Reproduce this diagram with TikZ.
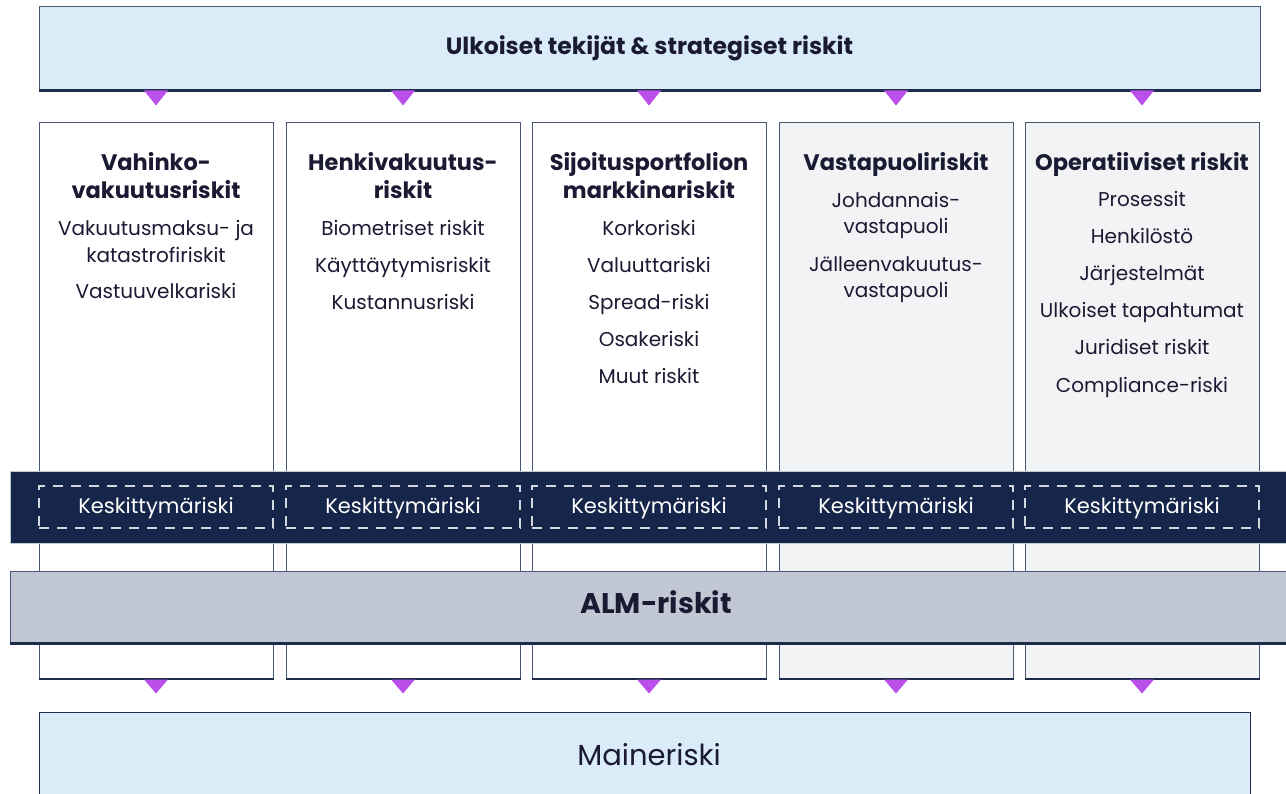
\documentclass[tikz,border=0pt]{standalone}
\usetikzlibrary{calc}
\usepackage{fontspec}
\setmainfont{Poppins}
\definecolor{lightblue}{HTML}{DAECF7}
\definecolor{edge}{HTML}{4A5878}
\definecolor{darkedge}{HTML}{1E2C4C}
\definecolor{navy}{HTML}{16264A}
\definecolor{almgray}{HTML}{C1C7D3}
\definecolor{paleg}{HTML}{F2F3F5}
\definecolor{tri}{HTML}{BB4FEA}
\definecolor{ink}{HTML}{1B1A33}
\definecolor{dashc}{HTML}{D3D7DF}
\tikzset{
  bar/.style={draw=edge, line width=1pt, inner sep=0pt},
  col/.style={draw=edge, line width=1pt, fill=white, minimum width=234pt, minimum height=555pt, inner sep=0pt},
  colg/.style={col, fill=paleg},
  hd/.style={font=\fontsize{22.5}{27}\selectfont\bfseries, text=ink, inner sep=0pt, anchor=base},
  it/.style={font=\fontsize{20}{27}\selectfont, text=ink, inner sep=0pt, anchor=base},
  kesk/.style={draw=dashc, line width=1.1pt, dash pattern=on 10pt off 8pt, minimum width=234pt, minimum height=42pt, inner sep=0pt},
  kesktxt/.style={text=white, font=\fontsize{21}{24}\selectfont, inner sep=0pt, anchor=base},
  marker/.style={fill=tri, draw=none}
}
\begin{document}
\begin{tikzpicture}[x=1pt,y=-1pt]
\useasboundingbox (0,0) rectangle (1286,794);
\clip (0,0) rectangle (1286,794);
% columns
\foreach \n/\x/\s in {c1/156/col,c2/403/col,c3/649/col,c4/896/colg,c5/1142/colg}{
  \node[\s] (\n) at (\x,400.5) {};
  \draw[darkedge, line width=2pt] (\n.south west) -- (\n.south east);
}
% top bar
\node[bar, fill=lightblue, minimum width=1221pt, minimum height=83pt] (top) at (649.5,48.5) {};
\draw[darkedge, line width=2.5pt] (top.south west) -- (top.south east);
\node[hd, font=\fontsize{23.5}{27}\selectfont\bfseries] (toptxt) at (649.5,54.5) {Ulkoiset tekijät \& strategiset riskit};
% markers top
\foreach \n in {c1,c2,c3,c4,c5}{
  \fill[marker] ($(top.south -| \n.center)+(-12,0)$) -- ($(top.south -| \n.center)+(12,0)$) -- ($(top.south -| \n.center)+(0,15)$) -- cycle;
}
% column headers
\node[hd] (h1a) at (156,171) {Vahinko-};
\node[hd] (h1b) at (156,199) {vakuutusriskit};
\node[hd] (h2a) at (403,171) {Henkivakuutus-};
\node[hd] (h2b) at (403,199) {riskit};
\node[hd] (h3a) at (649,171) {Sijoitusportfolion};
\node[hd] (h3b) at (649,199) {markkinariskit};
\node[hd] (h4) at (896,171) {Vastapuoliriskit};
\node[hd] (h5) at (1142,171) {Operatiiviset riskit};
% items
\node[it] (i11a) at (156,236) {Vakuutusmaksu- ja};
\node[it] (i11b) at (156,263) {katastrofiriskit};
\node[it] (i12) at (156,299) {Vastuuvelkariski};
\node[it] (i21) at (403,236) {Biometriset riskit};
\node[it] (i22) at (403,273) {Käyttäytymisriskit};
\node[it] (i23) at (403,310) {Kustannusriski};
\node[it] (i31) at (649,236) {Korkoriski};
\node[it] (i32) at (649,273) {Valuuttariski};
\node[it] (i33) at (649,310) {Spread-riski};
\node[it] (i34) at (649,347) {Osakeriski};
\node[it] (i35) at (649,384) {Muut riskit};
\node[it] (i41a) at (896,208) {Johdannais-};
\node[it] (i41b) at (896,234) {vastapuoli};
\node[it] (i42a) at (896,272) {Jälleenvakuutus-};
\node[it] (i42b) at (896,298) {vastapuoli};
\node[it] (i51) at (1142,207) {Prosessit};
\node[it] (i52) at (1142,244) {Henkilöstö};
\node[it] (i53) at (1142,281) {Järjestelmät};
\node[it] (i54) at (1142,318) {Ulkoiset tapahtumat};
\node[it] (i55) at (1142,355) {Juridiset riskit};
\node[it] (i56) at (1142,392) {Compliance-riski};
% concentration band
\node[bar, draw=almgray, line width=0.8pt, fill=navy, minimum width=1276pt, minimum height=72pt] (band) at (648,507) {};
\foreach \n in {c1,c2,c3,c4,c5}{
  \node[kesk] (k\n) at (\n.center |- band.center) {};
  \node[kesktxt] (kt\n) at ($(k\n.center)+(0,6.5)$) {Keskittymäriski};
}
% ALM band
\node[bar, fill=almgray, minimum width=1276pt, minimum height=72pt] (alm) at (648,607) {};
\draw[darkedge, line width=2.5pt] (alm.south west) -- (alm.south east);
\node[hd, font=\fontsize{28.5}{30}\selectfont\bfseries] (almtxt) at (656,613) {ALM-riskit};
% bottom markers
\foreach \n in {c1,c2,c3,c4,c5}{
  \fill[marker] ($(\n.south)+(-12,1)$) -- ($(\n.south)+(12,1)$) -- ($(\n.south)+(0,15)$) -- cycle;
}
% Maineriski
\node[bar, draw=darkedge, fill=lightblue, minimum width=1211pt, minimum height=100pt] (mr) at (644.5,762) {};
\node[it, font=\fontsize{29}{30}\selectfont] (mrtxt) at (649,765) {Maineriski};
\end{tikzpicture}
\end{document}
